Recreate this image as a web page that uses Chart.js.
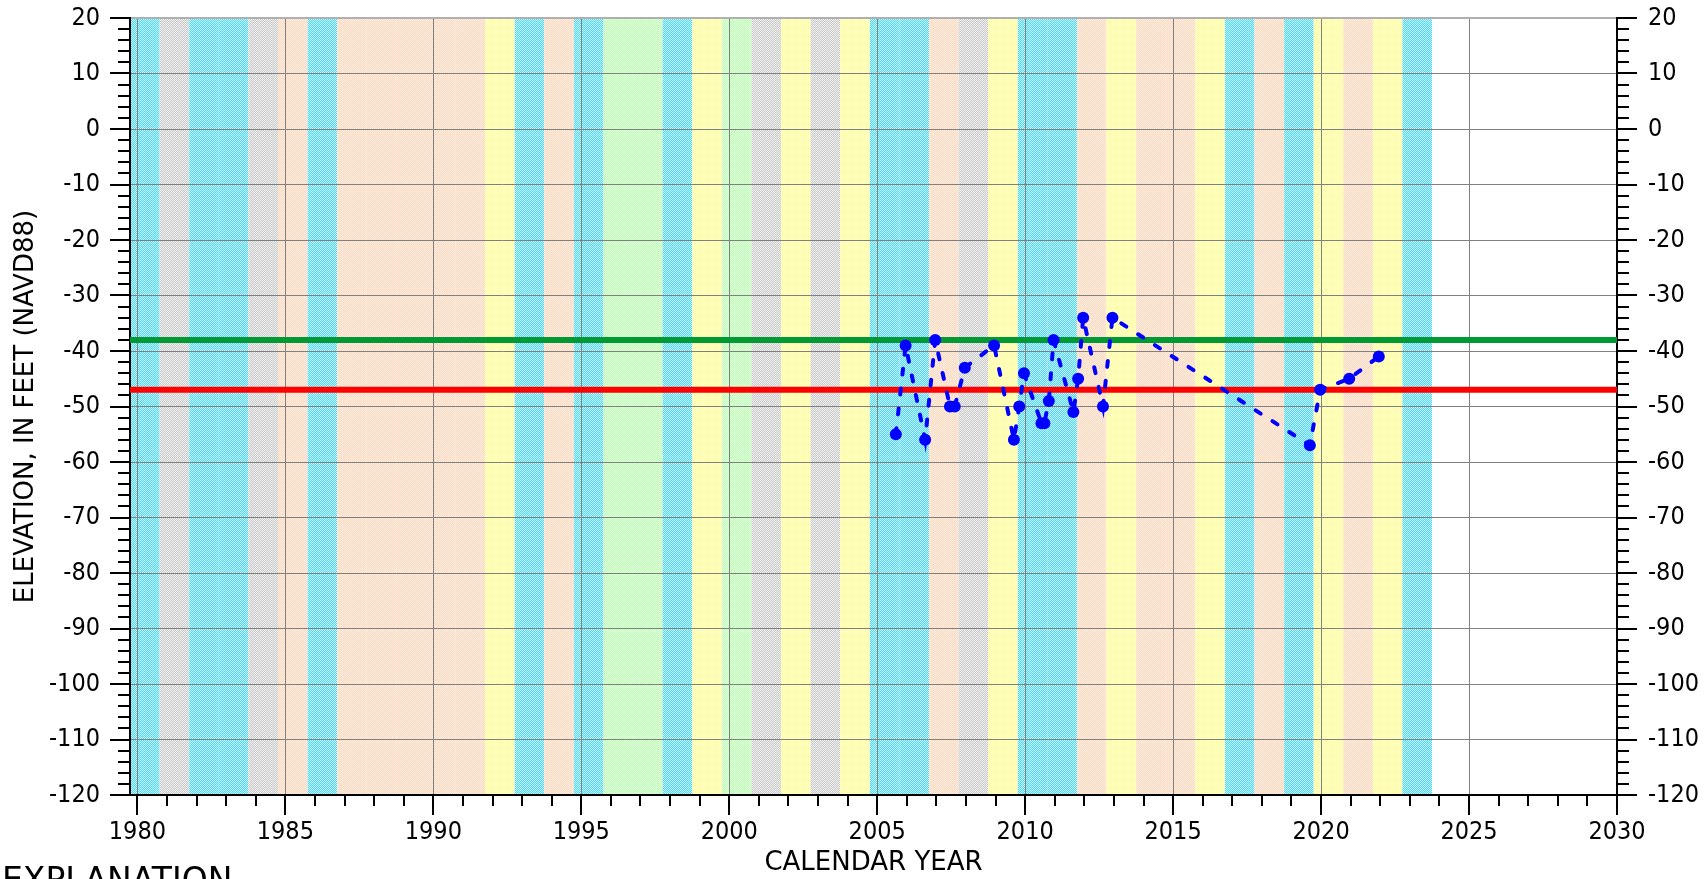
<!DOCTYPE html>
<html>
<head>
<meta charset="utf-8">
<script src="https://cdn.jsdelivr.net/npm/chart.js@4.4.0/dist/chart.umd.min.js"></script>
<style>
  html, body { margin: 0; padding: 0; background: #fff; overflow: hidden; }
  #wrap { position: relative; width: 1704px; height: 879px; }
</style>
</head>
<body>
<div id="wrap"><canvas id="chart" width="1704" height="879"></canvas></div>
<script>
// water years and their type (shaded bands)
const waterYears = [1980, 1981, 1982, 1983, 1984, 1985, 1986, 1987, 1988, 1989, 1990,
  1991, 1992, 1993, 1994, 1995, 1996, 1997, 1998, 1999, 2000, 2001, 2002, 2003, 2004,
  2005, 2006, 2007, 2008, 2009, 2010, 2011, 2012, 2013, 2014, 2015, 2016, 2017, 2018,
  2019, 2020, 2021, 2022, 2023];
const yearTypes = ['W', 'C', 'W', 'W', 'C', 'D', 'W', 'D', 'D', 'D', 'D',
  'D', 'BN', 'W', 'D', 'W', 'AN', 'AN', 'W', 'BN', 'AN', 'C', 'BN', 'C', 'BN',
  'W', 'W', 'D', 'C', 'BN', 'W', 'W', 'D', 'BN', 'D', 'D', 'BN', 'W', 'D',
  'W', 'BN', 'D', 'BN', 'W'];

// measured water levels
const measDates = [2005.63, 2005.96, 2006.62, 2006.96, 2007.46, 2007.62, 2007.96, 2008.95,
  2009.62, 2009.80, 2009.96, 2010.55, 2010.65, 2010.80, 2010.96, 2011.63, 2011.79, 2011.96,
  2012.63, 2012.95, 2019.62, 2019.97, 2020.95, 2021.95];
const measValues = [-55, -39, -56, -38, -50, -50, -43, -39,
  -56, -50, -44, -53, -53, -49, -38, -51, -45, -34,
  -50, -34, -57, -47, -45, -41];

// reference levels
const upperLevel = -38;
const lowerLevel = -47;

const xMin = 1979.75, xMax = 2030;
const yMin = -120, yMax = 20;

const FONT = '"DejaVu Sans Condensed", "DejaVu Sans", sans-serif';
const TITLE_FONT = '"DejaVu Sans", sans-serif';

const canvas = document.getElementById('chart');
const c2d = canvas.getContext('2d');

function dither(a, b) {
  const c = document.createElement('canvas');
  c.width = 2; c.height = 2;
  const g = c.getContext('2d');
  g.fillStyle = a; g.fillRect(0, 0, 2, 2);
  g.fillStyle = b; g.fillRect(0, 0, 1, 1); g.fillRect(1, 1, 1, 1);
  return c2d.createPattern(c, 'repeat');
}

const typeFill = {
  W: dither('#46d9f5', '#d0f7ff'),
  AN: dither('#bcffb4', '#e4ffe0'),
  BN: dither('#ffff96', '#ffffd7'),
  D: dither('#fad7be', '#fff0e1'),
  C: dither('#cbcbcb', '#eeeeee')
};

const bandPlugin = {
  id: 'bands',
  beforeDraw(chart) {
    const { ctx, chartArea: a, scales: { x } } = chart;
    ctx.save();
    ctx.beginPath();
    ctx.rect(a.left, a.top, a.right - a.left, a.bottom - a.top);
    ctx.clip();
    waterYears.forEach((yr, i) => {
      const x0 = x.getPixelForValue(yr - 0.25);
      const x1 = x.getPixelForValue(yr + 0.75);
      ctx.fillStyle = typeFill[yearTypes[i]];
      ctx.fillRect(x0, a.top, x1 - x0, a.bottom - a.top);
    });
    ctx.restore();
  }
};

// major / minor tick marks outside the axes, plus the caption below
const tickPlugin = {
  id: 'tickmarks',
  afterDraw(chart) {
    const { ctx, chartArea: a, scales: { x, y } } = chart;
    ctx.save();
    ctx.strokeStyle = '#000';
    ctx.lineWidth = 2;
    ctx.beginPath();
    for (let v = yMin; v <= yMax; v += 2) {
      const py = Math.round(y.getPixelForValue(v));
      const len = v % 10 === 0 ? 20 : 12;
      ctx.moveTo(a.left - len, py); ctx.lineTo(a.left, py);
      ctx.moveTo(a.right, py); ctx.lineTo(a.right + len, py);
    }
    for (let yr = 1980; yr <= 2030; yr++) {
      const px = Math.round(x.getPixelForValue(yr));
      const len = yr % 5 === 0 ? 20 : 11;
      ctx.moveTo(px, a.bottom); ctx.lineTo(px, a.bottom + len);
    }
    ctx.stroke();

    ctx.fillStyle = '#000';
    ctx.font = '33px ' + TITLE_FONT;
    ctx.textBaseline = 'alphabetic';
    ctx.fillText('EXPLANATION', 2, 891);
    ctx.restore();
  }
};

const tickFont = { family: FONT, size: 25 };
const titleFont = { family: TITLE_FONT, size: 26 };

function noPadY(s, w) {
  s.width = w;
  s.paddingTop = 0;
  s.paddingBottom = 0;
}

const config = {
  type: 'line',
  data: {
    datasets: [
      {
        label: 'Water level',
        data: measDates.map((d, i) => ({ x: d, y: measValues[i] })),
        borderColor: '#0000ff',
        backgroundColor: '#0000ff',
        borderWidth: 4,
        borderDash: [6, 14],
        borderCapStyle: 'round',
        pointRadius: 6,
        pointHoverRadius: 6,
        pointBorderWidth: 0,
        tension: 0
      },
      {
        label: 'Upper',
        data: [{ x: xMin, y: upperLevel }, { x: xMax, y: upperLevel }],
        borderColor: '#009933',
        borderWidth: 6,
        pointRadius: 0
      },
      {
        label: 'Lower',
        data: [{ x: xMin, y: lowerLevel }, { x: xMax, y: lowerLevel }],
        borderColor: '#ff0000',
        borderWidth: 6,
        pointRadius: 0
      }
    ]
  },
  options: {
    responsive: false,
    animation: false,
    devicePixelRatio: 1,
    layout: { padding: { top: 18, left: 0, right: 0, bottom: 0 } },
    plugins: { legend: { display: false }, tooltip: { enabled: false } },
    scales: {
      x: {
        type: 'linear',
        position: 'bottom',
        min: xMin,
        max: xMax,
        afterFit: s => { s.height = 84; s.paddingLeft = 0; s.paddingRight = 0; },
        ticks: {
          stepSize: 1,
          includeBounds: false,
          autoSkip: false,
          maxRotation: 0,
          padding: 22,
          color: '#000',
          font: tickFont,
          callback: v => (v % 5 === 0 ? String(v) : '')
        },
        grid: {
          drawTicks: false,
          lineWidth: 1,
          color: ctx => (ctx.tick && ctx.tick.value % 5 === 0 ? '#808080' : 'rgba(0,0,0,0)')
        },
        border: { color: '#000', width: 2 },
        title: {
          display: true,
          text: 'CALENDAR YEAR',
          color: '#000',
          font: titleFont,
          padding: { top: 0, bottom: 0 }
        }
      },
      y: {
        type: 'linear',
        position: 'left',
        min: yMin,
        max: yMax,
        afterFit: s => noPadY(s, 130),
        ticks: {
          stepSize: 2,
          autoSkip: false,
          padding: 30,
          color: '#000',
          font: tickFont,
          callback: v => (v % 10 === 0 ? String(v) : '')
        },
        grid: {
          drawTicks: false,
          lineWidth: ctx => (ctx.tick && ctx.tick.value === yMax ? 2 : 1),
          color: ctx => {
            if (!ctx.tick || ctx.tick.value % 10 !== 0) return 'rgba(0,0,0,0)';
            return ctx.tick.value === yMax ? '#b0b0b0' : '#808080';
          }
        },
        border: { color: '#000', width: 2 },
        title: {
          display: true,
          text: 'ELEVATION, IN FEET (NAVD88)',
          color: '#000',
          font: titleFont,
          padding: { top: 11, bottom: 0 }
        }
      },
      y2: {
        type: 'linear',
        position: 'right',
        min: yMin,
        max: yMax,
        afterFit: s => noPadY(s, 87),
        ticks: {
          stepSize: 2,
          autoSkip: false,
          padding: 31,
          color: '#000',
          font: tickFont,
          callback: v => (v % 10 === 0 ? String(v) : '')
        },
        grid: { display: false, drawTicks: false },
        border: { display: true, color: '#000', width: 2 }
      }
    }
  },
  plugins: [bandPlugin, tickPlugin]
};

new Chart(canvas, config);
</script>
</body>
</html>
